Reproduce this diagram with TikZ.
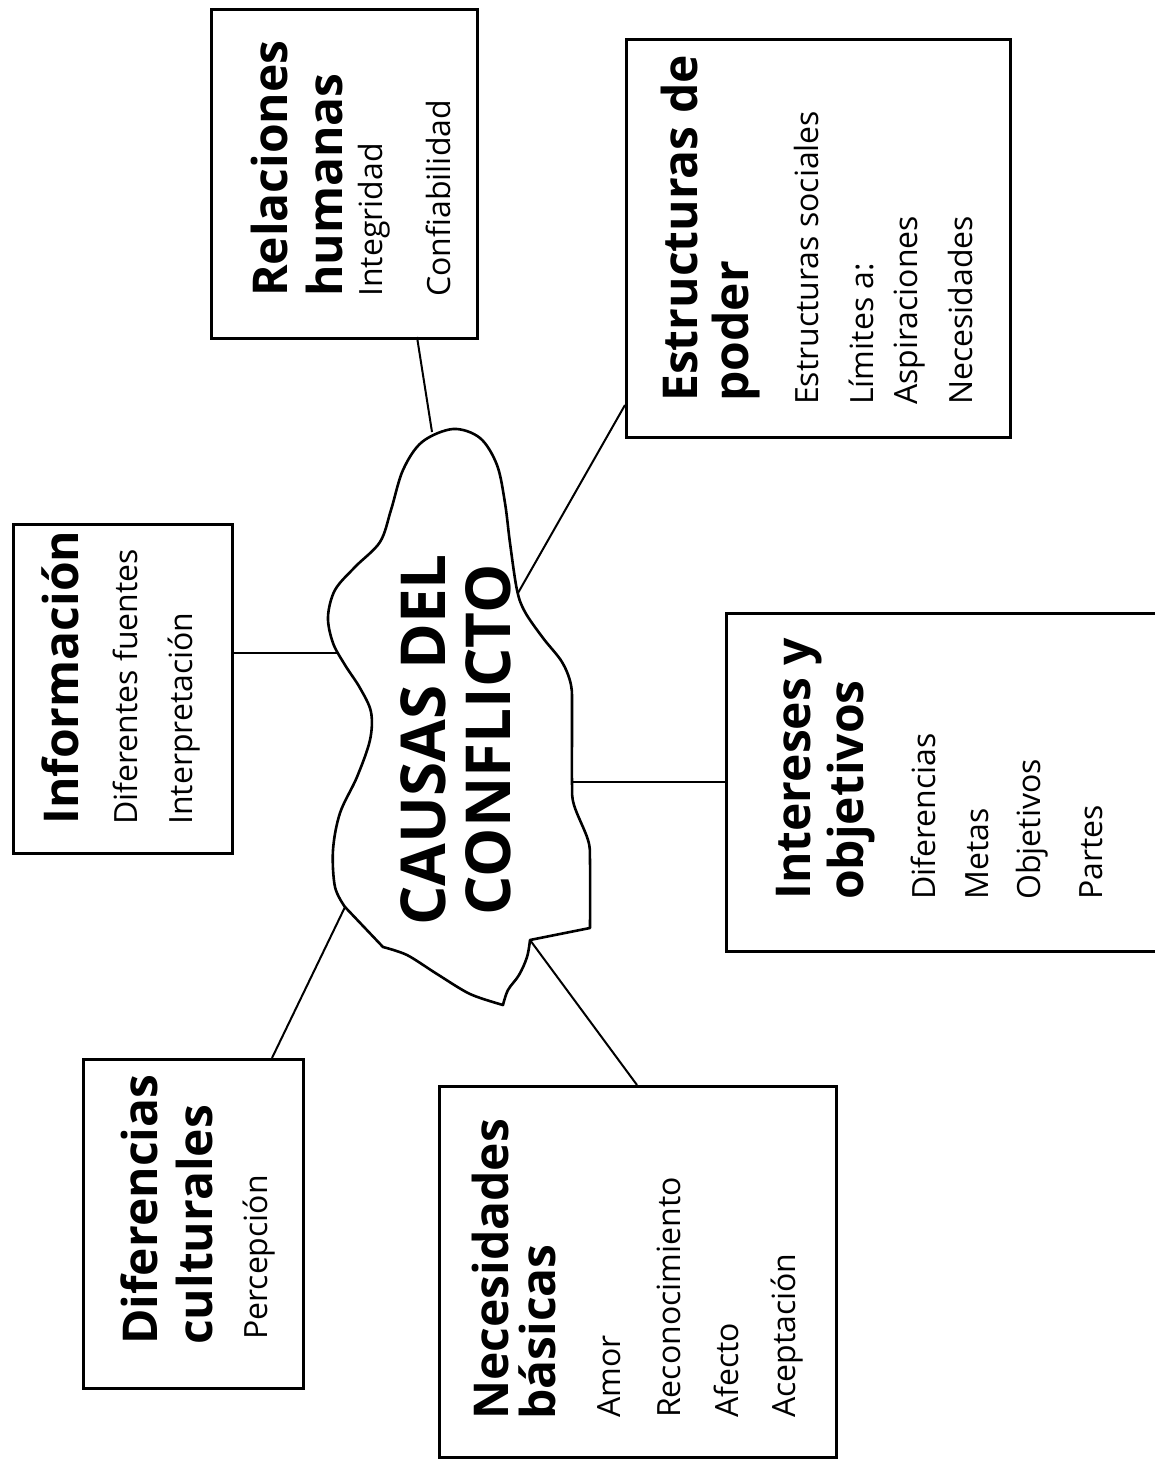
\documentclass[tikz,border=0pt]{standalone}
\usepackage{fontspec}
\setmainfont{Open Sans}
\begin{document}
\begin{tikzpicture}[x=1pt,y=1pt,
  box/.style={draw, line width=2.6pt, rectangle, inner sep=0pt, anchor=north west},
  link/.style={line width=2pt},
  outline/.style={line width=2.6pt, line join=round},
  headtxt/.style={rotate=90, anchor=base west, inner sep=0pt, font=\fontsize{48}{56}\selectfont\bfseries},
  entrytxt/.style={rotate=90, anchor=base west, inner sep=0pt, font=\fontsize{32}{38}\selectfont},
  coretxt/.style={rotate=90, anchor=base, inner sep=0pt, font=\fontsize{62}{70}\selectfont\bfseries}]

\useasboundingbox (0,0) rectangle (1155,-1459);
\clip (0,0) rectangle (1155,-1459);
\fill[white] (0,0) rectangle (1155,-1459);

% ---- boxes ----
\node[box, minimum width=266, minimum height=329] (rel) at (210,-8) {};
\node[box, minimum width=384, minimum height=398] (est) at (625,-38) {};
\node[box, minimum width=219, minimum height=329] (inf) at (12,-523) {};
\node[box, minimum width=460, minimum height=338] (int) at (725,-612) {};
\node[box, minimum width=220, minimum height=329] (dif) at (82,-1058) {};
\node[box, minimum width=397, minimum height=371] (nec) at (438,-1085) {};

% ---- central cloud ----
\draw[outline]
  plot[smooth, tension=0.55] coordinates {
    (345,-907) (335,-887) (333,-850) (340,-813) (357,-777) (370,-740)
    (371,-712) (360,-688) (345,-665) (333,-643) (328,-617) (335,-590)
    (355,-567) (380,-542) (391,-510) (403,-470) (422,-442) (453,-429)
    (480,-438) (497,-465) (505,-503) (510,-543) (517,-590) (525,-612)
    (543,-638) (562,-662) (571,-685) (572,-712) (572,-782) (574,-805)
    (588,-840) (590,-862) (590,-928)}
  -- (530,-940)
  -- plot[smooth, tension=0.6] coordinates {
    (530,-940) (527,-957) (519,-975) (508,-990) (503,-1005)}
  -- plot[smooth, tension=0.5] coordinates {
    (503,-1005) (470,-994) (437,-974) (407,-955) (383,-947)}
  -- cycle;

\node[coretxt] (c1) at (445,-740) {CAUSAS DEL};
\node[coretxt] (c2) at (510,-740) {CONFLICTO};

% ---- connector ends ----
\coordinate (relF) at (417,-337);   \coordinate (cRel) at (432,-432);
\coordinate (estF) at (625,-405);   \coordinate (cEst) at (518,-593);
\coordinate (infF) at (231,-653);   \coordinate (cInf) at (338,-653);
\coordinate (intF) at (725,-782);   \coordinate (cInt) at (572,-782);
\coordinate (difF) at (272,-1058);  \coordinate (cDif) at (345,-907);
\coordinate (necF) at (637,-1085);  \coordinate (cNec) at (530,-940);

\draw[link] (relF) -- (cRel);
\draw[link] (estF) -- (cEst);
\draw[link] (infF) -- (cInf);
\draw[link] (intF) -- (cInt);
\draw[link] (difF) -- (cDif);
\draw[link] (necF) -- (cNec);

% ---- Relaciones humanas ----
\node[headtxt]  (rel1) at (287,-297) {Relaciones};
\node[headtxt]  (rel2) at (342,-297) {humanas};
\node[entrytxt] (rel3) at (382,-297) {Integridad};
\node[entrytxt] (rel4) at (450,-297) {Confiabilidad};

% ---- Estructuras de poder ----
\node[headtxt]  (est1) at (697,-402) {Estructuras de};
\node[headtxt]  (est2) at (748,-402) {poder};
\node[entrytxt] (est3) at (818,-405) {Estructuras sociales};
\node[entrytxt] (est4) at (873,-405) {Límites a:};
\node[entrytxt] (est5) at (917,-405) {Aspiraciones};
\node[entrytxt] (est6) at (972,-405) {Necesidades};

% ---- Información ----
\node[headtxt]  (inf1) at (78,-825)  {Información};
\node[entrytxt] (inf2) at (137,-825) {Diferentes fuentes};
\node[entrytxt] (inf3) at (192,-825) {Interpretación};

% ---- Intereses y objetivos ----
\node[headtxt]  (int1) at (810,-900)  {Intereses y};
\node[headtxt]  (int2) at (863,-900)  {objetivos};
\node[entrytxt] (int3) at (935,-900)  {Diferencias};
\node[entrytxt] (int4) at (988,-900)  {Metas};
\node[entrytxt] (int5) at (1040,-900) {Objetivos};
\node[entrytxt] (int6) at (1102,-900) {Partes};

% ---- Diferencias culturales ----
\node[headtxt]  (dif1) at (157,-1345) {Diferencias};
\node[headtxt]  (dif2) at (212,-1345) {culturales};
\node[entrytxt] (dif3) at (267,-1340) {Percepción};

% ---- Necesidades básicas ----
\node[headtxt]  (nec1) at (508,-1420) {Necesidades};
\node[headtxt]  (nec2) at (555,-1420) {básicas};
\node[entrytxt] (nec3) at (620,-1418) {Amor};
\node[entrytxt] (nec4) at (680,-1418) {Reconocimiento};
\node[entrytxt] (nec5) at (738,-1418) {Afecto};
\node[entrytxt] (nec6) at (795,-1418) {Aceptación};

\end{tikzpicture}
\end{document}
